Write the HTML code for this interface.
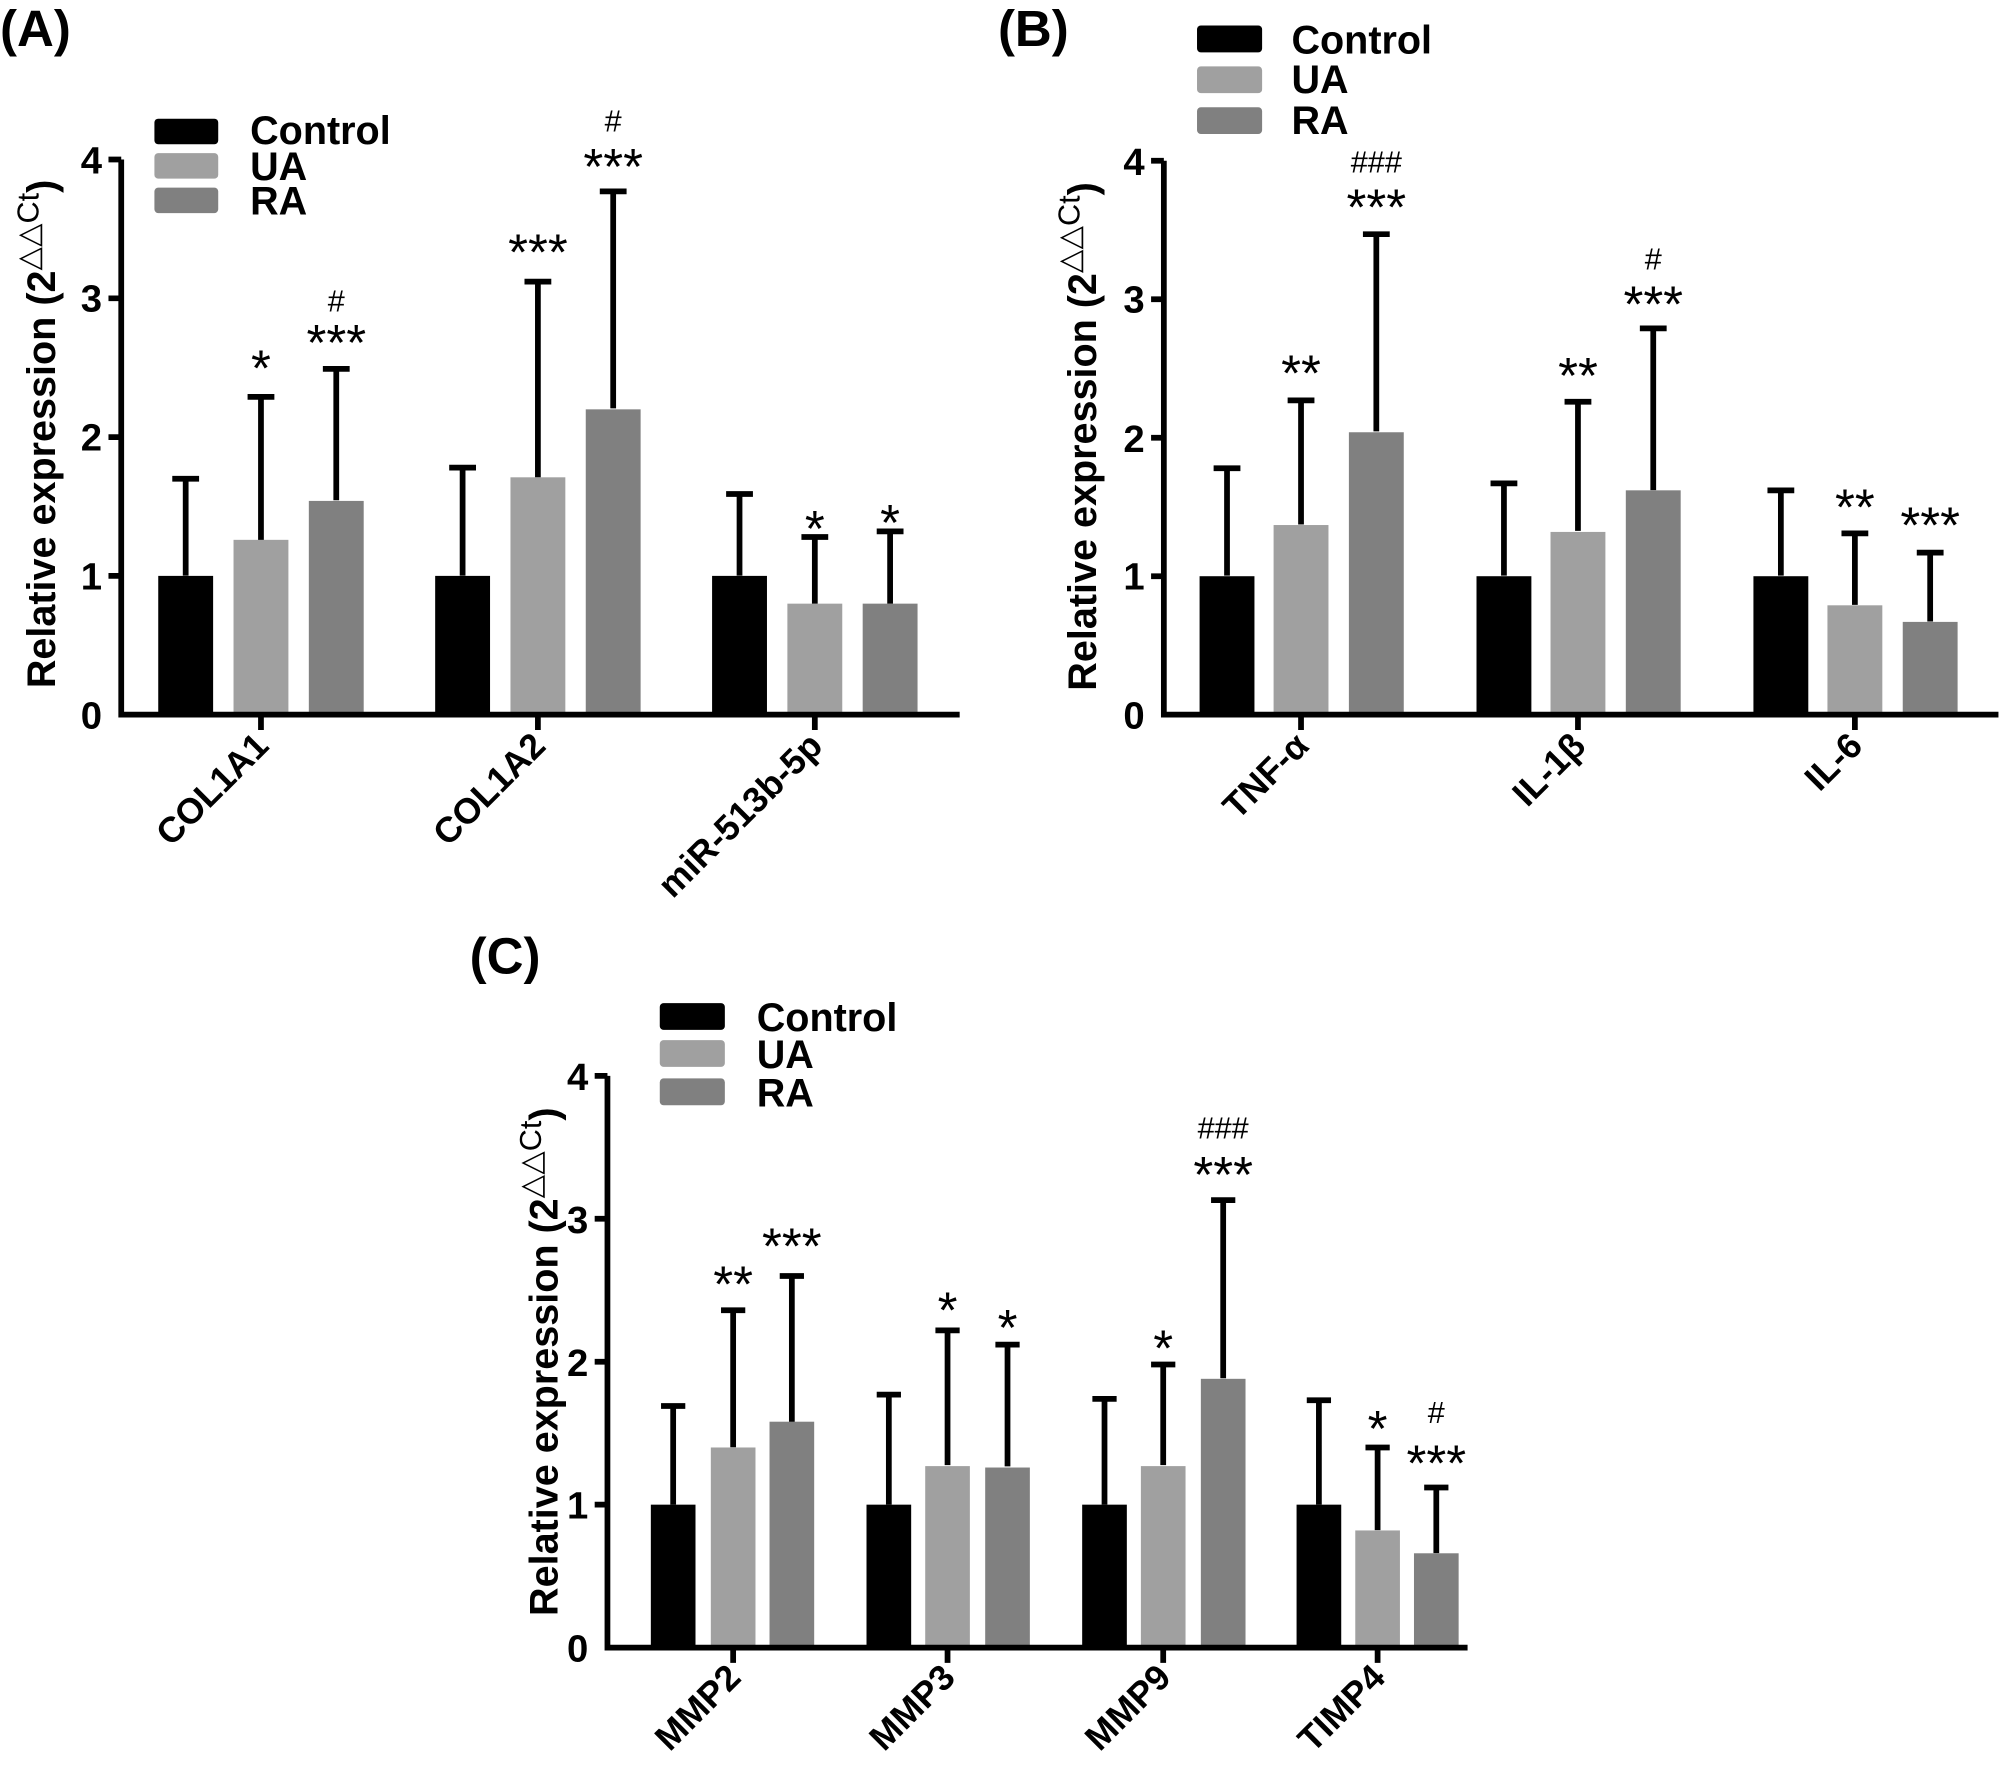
<!DOCTYPE html>
<html><head><meta charset="utf-8"><style>
html,body{margin:0;padding:0;background:#fff;}
svg{display:block;}
text{font-family:"Liberation Sans",Arial,sans-serif;fill:#000;}
.b{font-weight:bold;}
.ax{stroke:#000;stroke-width:4.5;fill:none;}
.er{stroke:#000;stroke-width:4.5;fill:none;}
.tk{font-size:30px;font-weight:bold;}
.lg{font-size:31px;font-weight:bold;}
.xl{font-size:28px;font-weight:bold;}
.st{font-size:40px;}
.hs{font-size:24px;}
.yl{font-size:31px;font-weight:bold;}
</style></head><body>
<svg width="2001" height="1777" viewBox="0 0 1568 1392.4" preserveAspectRatio="none" xmlns="http://www.w3.org/2000/svg">
<text x="0" y="36" class="b" style="font-size:40px">(A)</text>
<text x="782" y="36" class="b" style="font-size:40px">(B)</text>
<text x="368" y="763" class="b" style="font-size:40px">(C)</text>

<!-- ============ PANEL A ============ -->
<g>
<rect x="121" y="93" width="50" height="20" rx="3" fill="#000"/>
<rect x="121" y="120" width="50" height="20" rx="3" fill="#a0a0a0"/>
<rect x="121" y="147" width="50" height="20" rx="3" fill="#808080"/>
<text x="196" y="113" class="lg">Control</text>
<text x="196" y="141" class="lg">UA</text>
<text x="196" y="168" class="lg">RA</text>

<rect x="124" y="451.25" width="43" height="108.75" fill="#000"/>
<rect x="183" y="423" width="43" height="137" fill="#a0a0a0"/>
<rect x="242" y="392.5" width="43" height="167.5" fill="#808080"/>
<rect x="341" y="451.25" width="43" height="108.75" fill="#000"/>
<rect x="400" y="374" width="43" height="186" fill="#a0a0a0"/>
<rect x="459" y="320.75" width="43" height="239.25" fill="#808080"/>
<rect x="558" y="451.25" width="43" height="108.75" fill="#000"/>
<rect x="617" y="473" width="43" height="87" fill="#a0a0a0"/>
<rect x="676" y="473" width="43" height="87" fill="#808080"/>
<path class="er" d="M145.5 451V375.1M135 375.1H156 M204.5 423V311M194 311H215 M263.5 392V289M253 289H274
M362.5 451V366.4M352 366.4H373 M421.5 374V220.7M411 220.7H432 M480.5 320V150M470 150H491
M579.5 451V387.1M569 387.1H590 M638.5 473V420.8M628 420.8H649 M697.5 473V416.4M687 416.4H708"/>
<path class="ax" d="M95 125V560H752 M85 125H95 M85 233.75H95 M85 342.5H95 M85 451.25H95 M204.5 560V572 M421.5 560V572 M638.5 560V572"/>
<text x="80" y="571" class="tk" text-anchor="end">0</text>
<text x="80" y="462" class="tk" text-anchor="end">1</text>
<text x="80" y="353" class="tk" text-anchor="end">2</text>
<text x="80" y="244" class="tk" text-anchor="end">3</text>
<text x="80" y="136" class="tk" text-anchor="end">4</text>
<text transform="translate(43,340) rotate(-90)" class="yl" text-anchor="middle">Relative expression (2<tspan dy="-13" style="font-size:24px;font-weight:normal">△△Ct</tspan><tspan dy="13">)</tspan></text>
<text transform="translate(212,586) rotate(-45)" class="xl" text-anchor="end">COL1A1</text>
<text transform="translate(429,586) rotate(-45)" class="xl" text-anchor="end">COL1A2</text>
<text transform="translate(646,586) rotate(-45)" class="xl" text-anchor="end">miR-513b-5p</text>
<text x="204.5" y="302" class="st" text-anchor="middle">*</text>
<text x="263.5" y="282" class="st" text-anchor="middle">***</text>
<text x="263.5" y="244" class="hs" text-anchor="middle">#</text>
<text x="421.5" y="211" class="st" text-anchor="middle">***</text>
<text x="480.5" y="144" class="st" text-anchor="middle">***</text>
<text x="480.5" y="103" class="hs" text-anchor="middle">#</text>
<text x="638.5" y="428" class="st" text-anchor="middle">*</text>
<text x="697.5" y="423" class="st" text-anchor="middle">*</text>
</g>

<!-- ============ PANEL B ============ -->
<g>
<rect x="938" y="20" width="51" height="21" rx="3" fill="#000"/>
<rect x="938" y="52" width="51" height="21" rx="3" fill="#a0a0a0"/>
<rect x="938" y="84" width="51" height="21" rx="3" fill="#808080"/>
<text x="1012" y="42" class="lg">Control</text>
<text x="1012" y="73" class="lg">UA</text>
<text x="1012" y="105" class="lg">RA</text>

<rect x="940" y="451.5" width="43" height="108.5" fill="#000"/>
<rect x="998" y="411.4" width="43" height="148.6" fill="#a0a0a0"/>
<rect x="1057" y="338.7" width="43" height="221.3" fill="#808080"/>
<rect x="1157" y="451.5" width="43" height="108.5" fill="#000"/>
<rect x="1215" y="416.8" width="43" height="143.2" fill="#a0a0a0"/>
<rect x="1274" y="384.2" width="43" height="175.8" fill="#808080"/>
<rect x="1374" y="451.5" width="43" height="108.5" fill="#000"/>
<rect x="1432" y="474.3" width="43" height="85.7" fill="#a0a0a0"/>
<rect x="1491" y="487.3" width="43" height="72.7" fill="#808080"/>
<path class="er" d="M961.5 451V366.9M951 366.9H972 M1019.5 411V313.7M1009 313.7H1030 M1078.5 338V183.5M1068 183.5H1089
M1178.5 451V378.8M1168 378.8H1189 M1236.5 416V314.8M1226 314.8H1247 M1295.5 384V257.3M1285 257.3H1306
M1395.5 451V384.2M1385 384.2H1406 M1453.5 474V417.9M1443 417.9H1464 M1512.5 487V433M1502 433H1523"/>
<path class="ax" d="M912 126V560H1566 M902 126H912 M902 234.5H912 M902 343H912 M902 451.5H912 M1019.5 560V572 M1236.5 560V572 M1453.5 560V572"/>
<text x="897" y="571" class="tk" text-anchor="end">0</text>
<text x="897" y="462" class="tk" text-anchor="end">1</text>
<text x="897" y="354" class="tk" text-anchor="end">2</text>
<text x="897" y="245" class="tk" text-anchor="end">3</text>
<text x="897" y="137" class="tk" text-anchor="end">4</text>
<text transform="translate(859,342) rotate(-90)" class="yl" text-anchor="middle">Relative expression (2<tspan dy="-13" style="font-size:24px;font-weight:normal">△△Ct</tspan><tspan dy="13">)</tspan></text>
<text transform="translate(1027,586) rotate(-45)" class="xl" text-anchor="end">TNF-α</text>
<text transform="translate(1244,586) rotate(-45)" class="xl" text-anchor="end">IL-1β</text>
<text transform="translate(1461,586) rotate(-45)" class="xl" text-anchor="end">IL-6</text>
<text x="1019.5" y="306" class="st" text-anchor="middle">**</text>
<text x="1078.5" y="176" class="st" text-anchor="middle">***</text>
<text x="1078.5" y="135" class="hs" text-anchor="middle">###</text>
<text x="1236.5" y="308" class="st" text-anchor="middle">**</text>
<text x="1295.5" y="252" class="st" text-anchor="middle">***</text>
<text x="1295.5" y="211" class="hs" text-anchor="middle">#</text>
<text x="1453.5" y="411" class="st" text-anchor="middle">**</text>
<text x="1512.5" y="425" class="st" text-anchor="middle">***</text>
</g>

<!-- ============ PANEL C ============ -->
<g>
<rect x="517" y="786" width="51" height="21" rx="3" fill="#000"/>
<rect x="517" y="815" width="51" height="21" rx="3" fill="#a0a0a0"/>
<rect x="517" y="845" width="51" height="21" rx="3" fill="#808080"/>
<text x="593" y="808" class="lg">Control</text>
<text x="593" y="837" class="lg">UA</text>
<text x="593" y="867" class="lg">RA</text>

<rect x="510" y="1179" width="35" height="112" fill="#000"/>
<rect x="557" y="1134.2" width="35" height="156.8" fill="#a0a0a0"/>
<rect x="603" y="1114" width="35" height="177" fill="#808080"/>
<rect x="679" y="1179" width="35" height="112" fill="#000"/>
<rect x="725" y="1148.8" width="35" height="142.2" fill="#a0a0a0"/>
<rect x="772" y="1149.9" width="35" height="141.1" fill="#808080"/>
<rect x="848" y="1179" width="35" height="112" fill="#000"/>
<rect x="894" y="1148.8" width="35" height="142.2" fill="#a0a0a0"/>
<rect x="941" y="1080.4" width="35" height="210.6" fill="#808080"/>
<rect x="1016" y="1179" width="35" height="112" fill="#000"/>
<rect x="1062" y="1199.2" width="35" height="91.8" fill="#a0a0a0"/>
<rect x="1108" y="1217.1" width="35" height="73.9" fill="#808080"/>
<path class="er" d="M527.5 1179V1101.7M518 1101.7H537 M574.5 1134V1026.7M565 1026.7H584 M620.5 1114V999.8M611 999.8H630
M696.5 1179V1092.8M687 1092.8H706 M742.5 1148V1042.4M733 1042.4H752 M789.5 1149V1053.6M780 1053.6H799
M865.5 1179V1096.1M856 1096.1H875 M911.5 1148V1069.2M902 1069.2H921 M958.5 1080V940.4M949 940.4H968
M1033.5 1179V1097.2M1024 1097.2H1043 M1079.5 1199V1134.2M1070 1134.2H1089 M1125.5 1217V1165.6M1116 1165.6H1135"/>
<path class="ax" d="M476 843V1291H1150 M466 843H476 M466 955H476 M466 1067H476 M466 1179H476 M574.5 1291V1303 M742.5 1291V1303 M911.5 1291V1303 M1079.5 1291V1303"/>
<text x="461" y="1302" class="tk" text-anchor="end">0</text>
<text x="461" y="1190" class="tk" text-anchor="end">1</text>
<text x="461" y="1078" class="tk" text-anchor="end">2</text>
<text x="461" y="966" class="tk" text-anchor="end">3</text>
<text x="461" y="854" class="tk" text-anchor="end">4</text>
<text transform="translate(437,1067) rotate(-90)" class="yl" text-anchor="middle">Relative expression (2<tspan dy="-13" style="font-size:24px;font-weight:normal">△△Ct</tspan><tspan dy="13">)</tspan></text>
<text transform="translate(582,1316) rotate(-45)" class="xl" text-anchor="end">MMP2</text>
<text transform="translate(750,1316) rotate(-45)" class="xl" text-anchor="end">MMP3</text>
<text transform="translate(919,1316) rotate(-45)" class="xl" text-anchor="end">MMP9</text>
<text transform="translate(1087,1316) rotate(-45)" class="xl" text-anchor="end">TIMP4</text>
<text x="574.5" y="1020" class="st" text-anchor="middle">**</text>
<text x="620.5" y="990" class="st" text-anchor="middle">***</text>
<text x="742.5" y="1040" class="st" text-anchor="middle">*</text>
<text x="789.5" y="1054" class="st" text-anchor="middle">*</text>
<text x="911.5" y="1070" class="st" text-anchor="middle">*</text>
<text x="958.5" y="934" class="st" text-anchor="middle">***</text>
<text x="958.5" y="892" class="hs" text-anchor="middle">###</text>
<text x="1079.5" y="1133" class="st" text-anchor="middle">*</text>
<text x="1125.5" y="1160" class="st" text-anchor="middle">***</text>
<text x="1125.5" y="1115" class="hs" text-anchor="middle">#</text>
</g>
</svg>
</body></html>
